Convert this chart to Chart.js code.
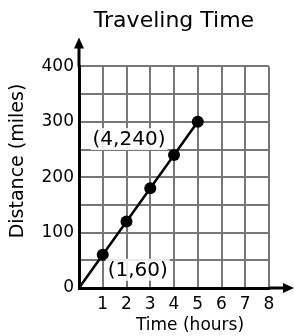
<!DOCTYPE html>
<html>
<head>
<meta charset="utf-8">
<script src="https://cdn.jsdelivr.net/npm/chart.js@4.4.0/dist/chart.umd.min.js"></script>
<style>
    html, body { margin: 0; padding: 0; background: #fff; }
    #wrap { width: 294px; height: 336px; }
</style>
</head>
<body>
<div id="wrap"><canvas id="travelChart" width="294" height="336"></canvas></div>
<script>
"use strict"

// data
const hours = [0, 1, 2, 3, 4, 5];
const miles = [0, 60, 120, 180, 240, 300];
const labelledPoints = [[4, 240], [1, 60]];
const chartTitle = "Traveling Time";
const xTitle = "Time (hours)";
const yTitle = "Distance (miles)";

const FONT = "DejaVu Sans";
const chartEl = document.getElementById("travelChart");

/**
 * Ritar pilar på axlarna, axeltitlar och etiketterna vid punkterna.
 */
const extrasPlugin = {
    id: "extras",
    afterDraw(chart) {
        const ctx = chart.ctx;
        const area = chart.chartArea;
        const xs = chart.scales.x;
        const ys = chart.scales.y;

        ctx.save();
        ctx.strokeStyle = "#000";
        ctx.fillStyle = "#000";
        ctx.lineWidth = 3;

        // y-axel pil
        ctx.beginPath();
        ctx.moveTo(area.left, area.top);
        ctx.lineTo(area.left, area.top - 22);
        ctx.stroke();
        ctx.beginPath();
        ctx.moveTo(area.left, area.top - 29);
        ctx.lineTo(area.left - 5, area.top - 18);
        ctx.lineTo(area.left + 5, area.top - 18);
        ctx.closePath();
        ctx.fill();

        // x-axel pil
        ctx.beginPath();
        ctx.moveTo(area.right, area.bottom);
        ctx.lineTo(area.right + 18, area.bottom);
        ctx.stroke();
        ctx.beginPath();
        ctx.moveTo(area.right + 25, area.bottom);
        ctx.lineTo(area.right + 14, area.bottom - 5);
        ctx.lineTo(area.right + 14, area.bottom + 5);
        ctx.closePath();
        ctx.fill();

        // axeltitlar
        ctx.textAlign = "center";
        ctx.textBaseline = "middle";
        ctx.font = "17px '" + FONT + "'";
        ctx.fillText(xTitle, 190, 326);

        ctx.save();
        ctx.translate(18, 161);
        ctx.rotate(-Math.PI / 2);
        ctx.font = "19px '" + FONT + "'";
        ctx.fillText(yTitle, 0, 0);
        ctx.restore();

        // etiketter vid punkterna
        const offsets = [[-45, -16], [35, 15]];
        ctx.font = "20px '" + FONT + "'";
        labelledPoints.forEach((p, i) => {
            const text = "(" + p[0] + "," + p[1] + ")";
            const cx = xs.getPixelForValue(p[0]) + offsets[i][0];
            const cy = ys.getPixelForValue(p[1]) + offsets[i][1];
            const w = ctx.measureText(text).width + 4;
            ctx.fillStyle = "rgba(255,255,255,0.85)";
            ctx.fillRect(cx - w / 2, cy - 11, w, 22);
            ctx.fillStyle = "#000";
            ctx.fillText(text, cx, cy + 1);
        });

        ctx.restore();
    }
};

new Chart(chartEl, {
    type: "line",
    data: {
        datasets: [{
            data: hours.map((h, i) => ({ x: h, y: miles[i] })),
            borderColor: "#000",
            borderWidth: 2.5,
            backgroundColor: "#000",
            pointBackgroundColor: "#000",
            pointBorderWidth: 0,
            pointRadius: (c) => c.dataIndex === 0 ? 0 : 6,
            tension: 0,
            fill: false
        }]
    },
    options: {
        responsive: false,
        animation: false,
        layout: { padding: { left: 0, right: 25, top: 0, bottom: 0 } },
        plugins: {
            legend: { display: false },
            tooltip: { enabled: false },
            title: {
                display: true,
                text: chartTitle,
                fullSize: false,
                color: "#000",
                font: { family: FONT, size: 22, weight: "normal" },
                padding: { top: 8, bottom: 32 }
            }
        },
        scales: {
            x: {
                type: "linear",
                min: 0,
                max: 8,
                afterFit: (s) => { s.height = 48; },
                ticks: {
                    stepSize: 1,
                    autoSkip: false,
                    maxRotation: 0,
                    padding: 6,
                    color: "#000",
                    font: { family: FONT, size: 17 },
                    callback: (v) => v === 0 ? "" : v
                },
                grid: { color: "#777", lineWidth: 2, drawTicks: false },
                border: { color: "#000", width: 3 }
            },
            y: {
                min: 0,
                max: 400,
                afterFit: (s) => { s.width = 79; },
                ticks: {
                    stepSize: 50,
                    autoSkip: false,
                    padding: 5,
                    color: "#000",
                    font: { family: FONT, size: 17 },
                    callback: (v) => v % 100 === 0 ? v : ""
                },
                grid: { color: "#777", lineWidth: 2, drawTicks: false },
                border: { color: "#000", width: 3 }
            }
        }
    },
    plugins: [extrasPlugin]
});
</script>
</body>
</html>
